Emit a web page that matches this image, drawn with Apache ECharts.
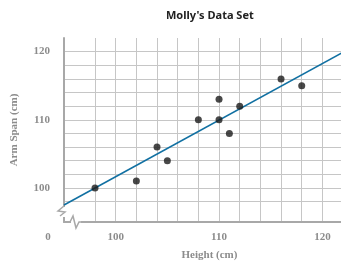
<!DOCTYPE html>
<html>
<head>
<meta charset="utf-8">
<script src="https://cdn.jsdelivr.net/npm/echarts@6/dist/echarts.min.js"></script>
<style>
  html, body { margin: 0; padding: 0; background: #fff; }
  #chart { width: 341px; height: 266px; }
</style>
</head>
<body>
<div id="chart"></div>
<script>
// Molly's data set: height vs arm span (cm)
const heights = [98, 102, 104, 105, 108, 110, 110, 111, 112, 116, 118];
const armSpans = [100, 101, 106, 104, 110, 113, 110, 108, 112, 116, 115];

// line of fit endpoints
const fitX = [95, 122];
const fitY = [97.5, 119.9];

const gridValues = [98, 100, 102, 104, 106, 108, 110, 112, 114, 116, 118, 120];
const tickLabels = [100, 110, 120];

const gray = '#8c8c8c';
const labelFont = {
  color: gray,
  fontFamily: 'Liberation Serif',
  fontWeight: 'bold',
  fontSize: 11
};

const chart = echarts.init(document.getElementById('chart'));

chart.setOption({
  animation: false,
  title: {
    text: "Molly's Data Set",
    left: 161,
    top: 5,
    textStyle: { fontFamily: 'Noto Sans', fontWeight: 'bold', fontSize: 11, color: '#222' }
  },
  grid: { left: 64, top: 38, right: 0, bottom: 43 },
  xAxis: {
    type: 'value',
    min: 95,
    max: 121.8,
    name: 'Height (cm)',
    nameLocation: 'middle',
    nameGap: 28,
    nameTextStyle: Object.assign({ padding: [0, 0, 0, 14] }, labelFont),
    axisLine: { show: true, lineStyle: { color: '#a8a8a8', width: 2 } },
    axisTick: { show: false, customValues: gridValues },
    axisLabel: Object.assign({ customValues: tickLabels, margin: 10 }, labelFont),
    splitLine: { show: true, lineStyle: { color: '#c6c6c6', width: 1 } }
  },
  yAxis: {
    type: 'value',
    min: 95,
    max: 122,
    name: 'Arm Span (cm)',
    nameLocation: 'middle',
    nameGap: 44,
    nameTextStyle: labelFont,
    axisLine: { show: true, lineStyle: { color: '#a8a8a8', width: 2 } },
    axisTick: { show: false, customValues: gridValues },
    axisLabel: Object.assign({ customValues: tickLabels, margin: 14 }, labelFont),
    splitLine: { show: true, lineStyle: { color: '#c6c6c6', width: 1 } }
  },
  series: [
    {
      type: 'line',
      data: fitX.map((x, i) => [x, fitY[i]]),
      showSymbol: false,
      lineStyle: { color: '#1170a2', width: 1.6 },
      z: 2
    },
    {
      type: 'scatter',
      data: heights.map((h, i) => [h, armSpans[i]]),
      symbolSize: 7,
      itemStyle: { color: '#1a1a1a' },
      z: 3
    }
  ]
});

// broken-axis marks and the "0" at the corner
const [cx, cy] = chart.convertToPixel({ gridIndex: 0 }, [95, 95]);
const breakStyle = { stroke: '#a8a8a8', lineWidth: 1.5, fill: null };
chart.setOption({
  graphic: [
    { type: 'rect', shape: { x: cx - 4, y: cy - 15, width: 8, height: 10 }, style: { fill: '#fff' }, z: 100 },
    { type: 'polyline', shape: { points: [[cx, cy - 16], [cx - 6, cy - 11], [cx + 1, cy - 10], [cx - 4, cy - 6]] }, style: breakStyle, z: 101 },
    { type: 'rect', shape: { x: cx + 7, y: cy - 2, width: 10, height: 4 }, style: { fill: '#fff' }, z: 100 },
    { type: 'polyline', shape: { points: [[cx + 6, cy], [cx + 9, cy - 6], [cx + 12, cy + 6], [cx + 15, cy], [cx + 18, cy]] }, style: breakStyle, z: 101 },
    {
      type: 'text',
      x: cx - 16,
      y: cy + 15,
      style: { text: '0', fill: gray, align: 'center', verticalAlign: 'middle', font: 'bold 11px "Liberation Serif"' },
      z: 101
    }
  ]
});
</script>
</body>
</html>
